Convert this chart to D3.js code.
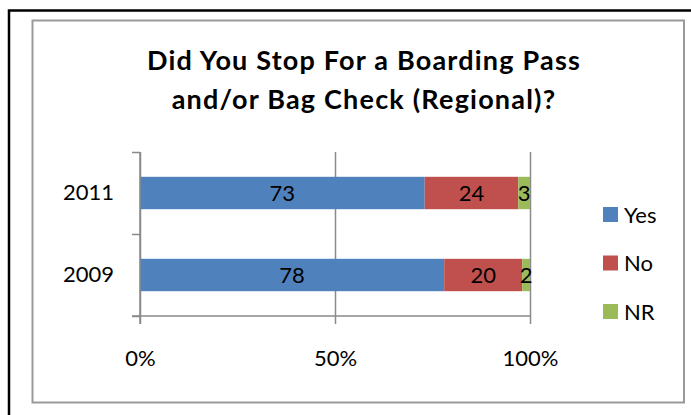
<!DOCTYPE html>
<html><head><meta charset="utf-8">
<script src="https://cdn.jsdelivr.net/npm/d3@7"></script>
<style>
html,body{margin:0;padding:0;background:#fff;}
svg{display:block;}
text{font-family:Lato,"Open Sans",sans-serif;fill:#000;}
</style></head>
<body>
<svg id="chart" width="691" height="415"></svg>
<script>
const titleLines = ["Did You Stop For a Boarding Pass", "and/or Bag Check (Regional)?"];
const categories = ["2011", "2009"];
const seriesNames = ["Yes", "No", "NR"];
const yesValues = [73, 78];
const noValues = [24, 20];
const nrValues = [3, 2];
const tickValues = [0, 50, 100];
const tickLabels = ["0%", "50%", "100%"];
const colors = ["#4F81BD", "#C0504D", "#9BBB59"];

const rows = categories.map((c, i) => ({cat: c, Yes: yesValues[i], No: noValues[i], NR: nrValues[i]}));
const stack = d3.stack().keys(seriesNames)(rows);

const svg = d3.select("#chart");
const grey = "#8a8a8a";

// outer borders
svg.append("rect").attr("x", 9).attr("y", 10.5).attr("width", 700).attr("height", 420)
  .attr("fill", "none").attr("stroke", "#000").attr("stroke-width", 2.5);
svg.append("rect").attr("x", 32.5).attr("y", 20.5).attr("width", 651.5).attr("height", 382)
  .attr("fill", "none").attr("stroke", "#999").attr("stroke-width", 2);

// title
const title = svg.append("text").attr("text-anchor", "middle")
  .style("font-weight", "bold").style("font-size", "27px").style("letter-spacing", "1.2px");
titleLines.forEach((t, i) => {
  title.append("tspan").attr("x", 364).attr("y", 70 + i * 38.5).text(t);
});

const x = d3.scaleLinear().domain([0, 100]).range([140, 530]);
const y = d3.scaleBand().domain(categories).range([152, 316]).padding(0);
const barH = y.bandwidth() * 0.395;

// gridlines + x ticks
const xAxis = d3.axisBottom(x).tickValues(tickValues).tickFormat((d, i) => tickLabels[i])
  .tickSize(164 + 8).tickPadding(26);
const gx = svg.append("g").attr("transform", "translate(0,152)").call(xAxis);
gx.select(".domain").remove();
gx.selectAll(".tick line").attr("stroke", grey).attr("stroke-width", 1.5);
gx.selectAll(".tick text").style("font-size", "22px").style("font-family", "Lato").attr("fill", "#000");

// y axis
const yAxisScale = d3.scalePoint().domain(["a","b","c"]).range([152, 316]);
const gy = svg.append("g").attr("transform", "translate(140,0)")
  .call(d3.axisLeft(yAxisScale).tickSize(8).tickFormat(""));
gy.selectAll(".tick line").attr("stroke", grey).attr("stroke-width", 1.5);
gy.select(".domain").remove();

// x axis baseline
svg.append("line").attr("x1", x(0) - 8).attr("x2", x(100)).attr("y1", 316).attr("y2", 316)
  .attr("stroke", grey).attr("stroke-width", 1.5);

// category labels
svg.append("g").selectAll("text").data(categories).join("text")
  .attr("x", 114).attr("y", d => y(d) + y.bandwidth() / 2 + 7)
  .attr("text-anchor", "end").style("font-size", "22px").text(d => d);

// bars
const layers = svg.append("g").selectAll("g").data(stack).join("g")
  .attr("fill", (d, i) => colors[i]);
layers.selectAll("rect").data(d => d).join("rect")
  .attr("x", d => x(d[0])).attr("width", d => x(d[1]) - x(d[0]))
  .attr("y", d => y(d.data.cat) + (y.bandwidth() - barH) / 2).attr("height", barH);

// value labels
stack.forEach(s => {
  svg.append("g").selectAll("text").data(s).join("text")
    .attr("x", d => (x(d[0]) + x(d[1])) / 2)
    .attr("y", d => y(d.data.cat) + y.bandwidth() / 2 + 8)
    .attr("text-anchor", "middle").style("font-size", "22px")
    .text(d => d[1] - d[0]);
});

// vertical axis line on top
svg.append("line").attr("x1", x(0)).attr("x2", x(0)).attr("y1", 152).attr("y2", 324)
  .attr("stroke", grey).attr("stroke-width", 1.5);

// legend
const lg = svg.append("g").selectAll("g").data(seriesNames).join("g")
  .attr("transform", (d, i) => `translate(603,${207 + i * 48.5})`);
lg.append("rect").attr("width", 15).attr("height", 15).attr("fill", (d, i) => colors[i]);
lg.append("text").attr("x", 21).attr("y", 15.5).style("font-size", "22px").text(d => d);
</script>
</body></html>
